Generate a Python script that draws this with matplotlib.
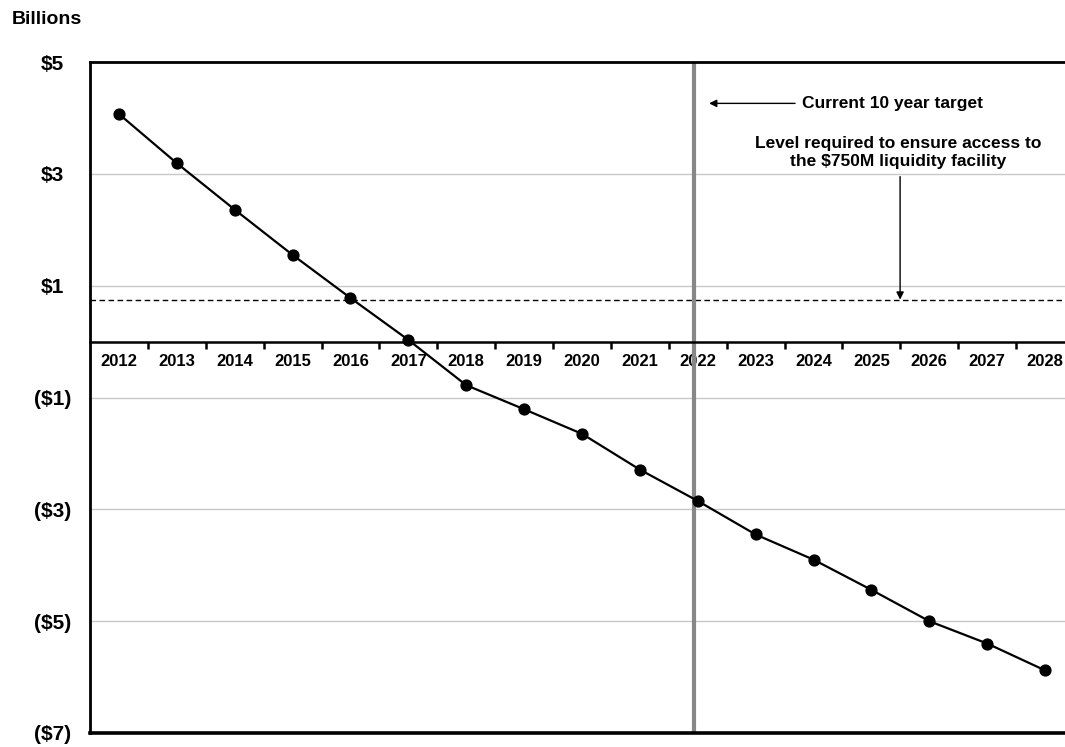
import numpy as np
import matplotlib
matplotlib.use("Agg")
import matplotlib.pyplot as plt

plt.rcParams['font.family'] = ['Liberation Sans', 'DejaVu Sans']

years = ["2012", "2013", "2014", "2015", "2016", "2017", "2018", "2019", "2020",
         "2021", "2022", "2023", "2024", "2025", "2026", "2027", "2028"]
values = [4.07, 3.19, 2.36, 1.55, 0.78, 0.03, -0.78, -1.21, -1.65,
          -2.29, -2.85, -3.45, -3.90, -4.44, -5.00, -5.40, -5.88]
ytick_vals = [5, 3, 1, -1, -3, -5, -7]
ytick_labels = ["$5", "$3", "$1", "($1)", "($3)", "($5)", "($7)"]
liquidity_level = 0.75
target_pos = 9.93

W, H = 1065, 747
fig = plt.figure(figsize=(W / 100, H / 100), dpi=100)
ax = fig.add_axes([90 / W, (H - 733) / H, (1074 - 90) / W, (733 - 62) / H])

x = np.arange(len(years))
ax.set_xlim(-0.5, len(years) - 0.5)
ax.set_ylim(-7, 5)

# gridlines
for v in ytick_vals[1:-1]:
    ax.axhline(v, color="#c8c8c8", lw=1.0, zorder=1)

# dashed liquidity line
ax.axhline(liquidity_level, color="black", lw=1.0, ls=(0, (4, 2.5)), zorder=2)

# vertical target line
ax.axvline(target_pos, color="#878787", lw=3.0, zorder=2)

# data line
ax.plot(x, values, color="black", lw=1.6, marker="o", markersize=7.8, zorder=4)

# spines
ax.spines['right'].set_visible(False)
ax.spines['bottom'].set_position(('data', 0))
ax.spines['bottom'].set_linewidth(1.8)
ax.spines['left'].set_linewidth(2.0)
ax.spines['top'].set_linewidth(2.0)
ax.axhline(-7, color="black", lw=2.6, clip_on=False, zorder=5)

# x ticks
ax.set_xticks(x)
ax.set_xticklabels(years, fontsize=12, fontweight="bold")
ax.tick_params(axis='x', which='major', length=0, pad=9)
ax.set_xticks(np.arange(0.5, len(years) - 0.5, 1), minor=True)
ax.tick_params(axis='x', which='minor', length=5, width=1.8, direction='out')

# y ticks (labels centered)
ax.set_yticks(ytick_vals)
ax.set_yticklabels(ytick_labels, fontsize=15, fontweight="bold")
ax.tick_params(axis='y', length=0, pad=27)
for lab in ax.get_yticklabels():
    lab.set_horizontalalignment("center")

# Billions label
fig.text(12 / W, 1 - 20 / H, "Billions", fontsize=14, fontweight="bold",
         ha="left", va="center")


def px2x(px):
    return (px - 90) / 57.875 - 0.5


# annotations
ax.annotate("", xy=(px2x(709), 4.26), xytext=(px2x(795), 4.26),
            arrowprops=dict(arrowstyle="-|>", color="black", lw=1.0,
                            mutation_scale=11, shrinkA=0, shrinkB=0))
ax.text(px2x(802), 4.26, "Current 10 year target",
        fontsize=12.5, fontweight="bold", ha="left", va="center")
ax.text(px2x(898), 3.39,
        "Level required to ensure access to\nthe $750M liquidity facility",
        fontsize=12.5, fontweight="bold", ha="center", va="center",
        linespacing=1.25)
ax.annotate("", xy=(px2x(900), liquidity_level), xytext=(px2x(900), 2.95),
            arrowprops=dict(arrowstyle="-|>", color="black", lw=1.0,
                            mutation_scale=11, shrinkA=0, shrinkB=0))

fig.savefig("out.png", dpi=100)
